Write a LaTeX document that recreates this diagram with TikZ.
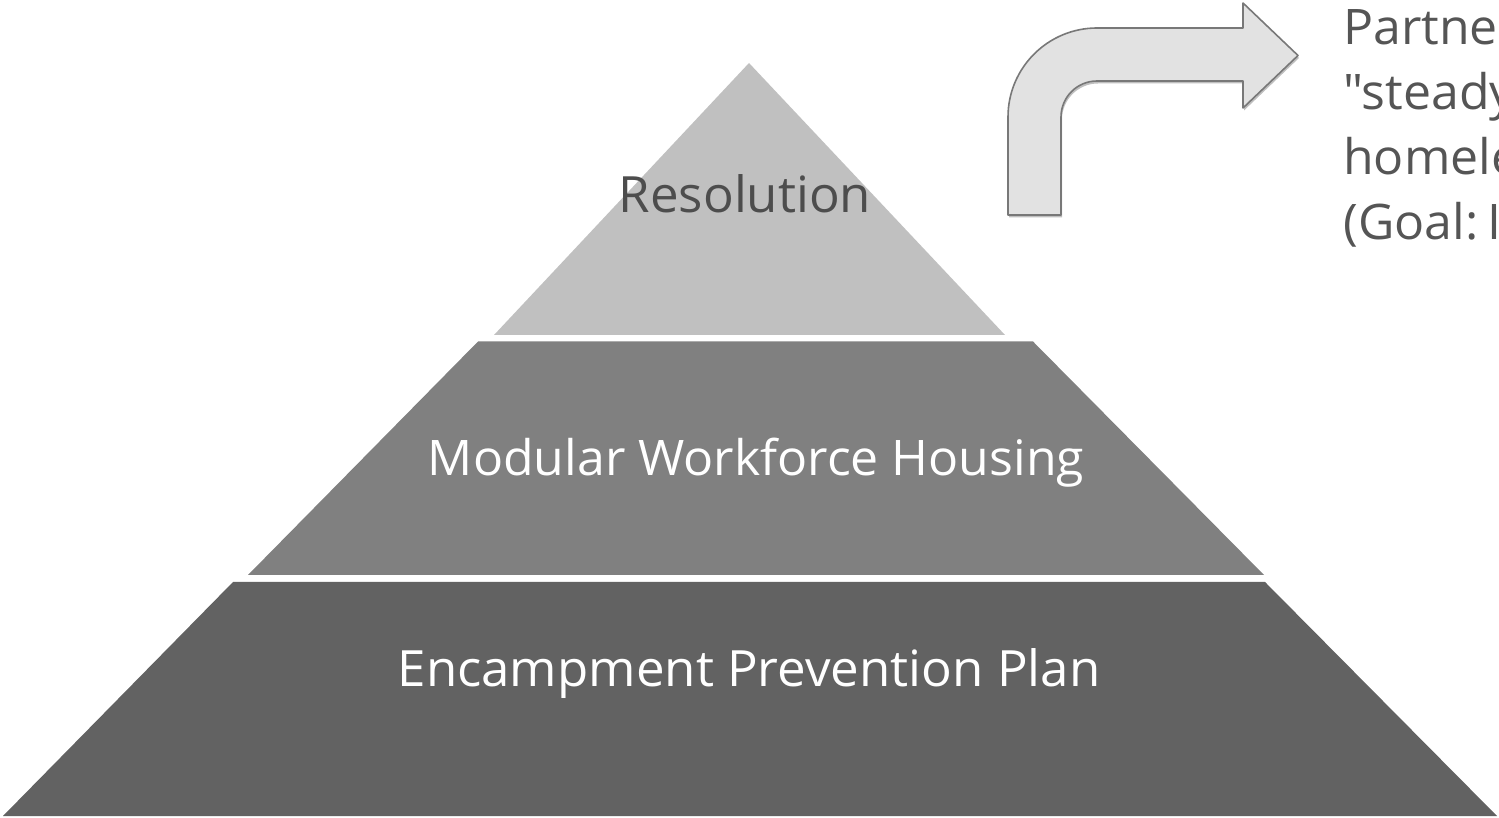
\documentclass[tikz,border=0pt]{standalone}
\usepackage{fontspec}
\setmainfont[FakeStretch=1.02, Ligatures=TeXOff]{Open Sans}
\usetikzlibrary{shadows}
\definecolor{tierA}{RGB}{192,192,192}
\definecolor{tierB}{RGB}{128,128,128}
\definecolor{tierC}{RGB}{98,98,98}
\definecolor{darktxt}{RGB}{77,77,77}
\definecolor{sidetxt}{RGB}{85,85,85}
\definecolor{arrowfill}{RGB}{226,226,226}
\definecolor{arrowline}{RGB}{120,120,120}
\tikzset{
  tier/.style={draw=none},
  tiertext/.style={anchor=base, inner sep=0pt, font=\fontsize{50}{60}\selectfont},
  sidetext/.style={anchor=base west, inner sep=0pt, text=sidetxt, font=\fontsize{49}{59}\selectfont},
  bentarrow/.style={fill=arrowfill, draw=arrowline, line width=1.6pt, line join=round,
    drop shadow={shadow xshift=1pt, shadow yshift=-2.5pt, opacity=0.25, fill=black}}
}
\begin{document}
\begin{tikzpicture}[x=1pt, y=1pt]
\useasboundingbox (0,0) rectangle (1499,817);
\clip (0,0) rectangle (1499,817);
% bottom tier
\fill[tierC] (3,1) -- (1497,1) -- (1265,235) -- (233,235) -- cycle;
% middle tier
\fill[tierB] (248,242) -- (1264,242) -- (1033,475.5) -- (478,475.5) -- cycle;
% top tier
\fill[tierA] (494,482) -- (1005,482) -- (749,754) -- cycle;
% labels
\node[tiertext, text=darktxt] (res) at (745,604) {Resolution};
\node[tiertext, text=white, font=\fontsize{49}{59}\selectfont] (mod) at (756,341) {Modular Workforce Housing};
\node[tiertext, text=white] (enc) at (749,131) {Encampment Prevention Plan};
% bent arrow
\path[bentarrow] (1008,602) -- (1008,700)
  arc[start angle=180, end angle=90, radius=89] -- (1243,789) -- (1243,814)
  -- (1298,761.5) -- (1243,709) -- (1243,736) -- (1097,736)
  arc[start angle=90, end angle=180, radius=36] -- (1061,602) -- cycle;
% side text (cut off at the right edge, as in the reference)
\node[sidetext] (l1) at (1343,772) {Partners};
\node[sidetext] (l2) at (1343,707) {"steady};
\node[sidetext] (l3) at (1343,642) {homeless};
\node[sidetext] (l4) at (1343,577) {(Goal:\hspace{0.18em}I};
\end{tikzpicture}
\end{document}
